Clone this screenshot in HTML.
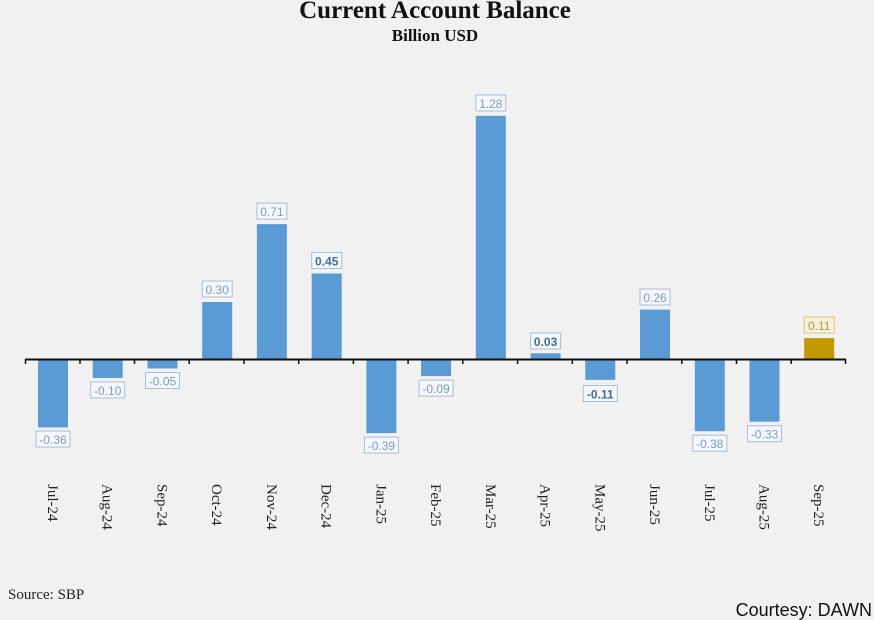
<!DOCTYPE html>
<html><head><meta charset="utf-8"><style>
body{margin:0;background:#f1f1f1;}
svg{display:block;}
.b{fill:#5b9bd5}
.lb{fill:#f4f6f9;stroke:#a9bfd6;stroke-width:1}
.lt{font-family:"Liberation Sans",sans-serif;font-size:12px;fill:#7d9cbf;text-anchor:middle}
.bd{fill:#3f6f9e;font-weight:bold}
.c{font-family:"Liberation Serif",serif;font-size:15px;fill:#222}
</style></head><body>
<svg width="874" height="620" viewBox="0 0 874 620" xmlns="http://www.w3.org/2000/svg">
<rect width="874" height="620" fill="#f1f1f1"/>
<text x="435" y="18" text-anchor="middle" font-family="Liberation Serif,serif" font-weight="bold" font-size="25" fill="#111">Current Account Balance</text>
<text x="435" y="41" text-anchor="middle" font-family="Liberation Serif,serif" font-weight="bold" font-size="17" fill="#111">Billion USD</text>
<rect class="b" x="38" y="359" width="30" height="68.4"/>
<rect class="b" x="92.7" y="359" width="30" height="19"/>
<rect class="b" x="147.5" y="359" width="30" height="9.5"/>
<rect class="b" x="202.2" y="302" width="30" height="57"/>
<rect class="b" x="256.9" y="224.1" width="30" height="134.9"/>
<rect class="b" x="311.7" y="273.5" width="30" height="85.5"/>
<rect class="b" x="366.4" y="359" width="30" height="74.1"/>
<rect class="b" x="421.1" y="359" width="30" height="17.1"/>
<rect class="b" x="475.8" y="115.8" width="30" height="243.2"/>
<rect class="b" x="530.6" y="353.3" width="30" height="5.7"/>
<rect class="b" x="585.3" y="359" width="30" height="20.9"/>
<rect class="b" x="640" y="309.6" width="30" height="49.4"/>
<rect class="b" x="694.8" y="359" width="30" height="72.2"/>
<rect class="b" x="749.5" y="359" width="30" height="62.7"/>
<rect x="804.2" y="338.1" width="30" height="20.9" fill="#c29a00"/>
<line x1="25" y1="359.5" x2="846" y2="359.5" stroke="#111" stroke-width="2"/>
<g stroke="#111" stroke-width="1.5">
<line x1="25.5" y1="359" x2="25.5" y2="364"/><line x1="80" y1="359" x2="80" y2="364"/><line x1="134.5" y1="359" x2="134.5" y2="364"/><line x1="189.2" y1="359" x2="189.2" y2="364"/><line x1="244" y1="359" x2="244" y2="364"/><line x1="298.7" y1="359" x2="298.7" y2="364"/><line x1="353.4" y1="359" x2="353.4" y2="364"/><line x1="408.1" y1="359" x2="408.1" y2="364"/><line x1="462.8" y1="359" x2="462.8" y2="364"/><line x1="517.6" y1="359" x2="517.6" y2="364"/><line x1="572.3" y1="359" x2="572.3" y2="364"/><line x1="627" y1="359" x2="627" y2="364"/><line x1="681.8" y1="359" x2="681.8" y2="364"/><line x1="736.5" y1="359" x2="736.5" y2="364"/><line x1="791.2" y1="359" x2="791.2" y2="364"/><line x1="845.5" y1="359" x2="845.5" y2="364"/>
</g>
<rect class="lb" x="36" y="431" width="34" height="16"/><text class="lt" x="53" y="444">-0.36</text>
<rect class="lb" x="90.7" y="382" width="34" height="16"/><text class="lt" x="107.7" y="395">-0.10</text>
<rect class="lb" x="145.5" y="372.5" width="34" height="16"/><text class="lt" x="162.5" y="385.5">-0.05</text>
<rect class="lb" x="202.2" y="281" width="30" height="16"/><text class="lt" x="217.2" y="294">0.30</text>
<rect class="lb" x="256.9" y="203.1" width="30" height="16"/><text class="lt" x="271.9" y="216.1">0.71</text>
<rect class="lb" x="311.7" y="252.5" width="30" height="16"/><text class="lt bd" x="326.7" y="265.5">0.45</text>
<rect class="lb" x="364.4" y="437.1" width="34" height="16"/><text class="lt" x="381.4" y="450.1">-0.39</text>
<rect class="lb" x="419.1" y="380.1" width="34" height="16"/><text class="lt" x="436.1" y="393.1">-0.09</text>
<rect class="lb" x="475.8" y="95" width="30" height="16"/><text class="lt" x="490.8" y="108">1.28</text>
<rect class="lb" x="530.6" y="333" width="30" height="16"/><text class="lt bd" x="545.6" y="346">0.03</text>
<rect class="lb" x="583.3" y="385.5" width="34" height="16"/><text class="lt bd" x="600.3" y="398.5">-0.11</text>
<rect class="lb" x="640" y="289" width="30" height="16"/><text class="lt" x="655" y="302">0.26</text>
<rect class="lb" x="692.8" y="435.2" width="34" height="16"/><text class="lt" x="709.8" y="448.2">-0.38</text>
<rect class="lb" x="747.5" y="425.7" width="34" height="16"/><text class="lt" x="764.5" y="438.7">-0.33</text>
<rect x="804.2" y="317" width="30" height="16" fill="#f6f1df" stroke="#dcc77a"/><text class="lt" x="819.2" y="330" style="fill:#b8992f">0.11</text>
<g class="c">
<text transform="translate(53,484) rotate(90)" dy="5">Jul-24</text>
<text transform="translate(107.7,484) rotate(90)" dy="5">Aug-24</text>
<text transform="translate(162.5,484) rotate(90)" dy="5">Sep-24</text>
<text transform="translate(217.2,484) rotate(90)" dy="5">Oct-24</text>
<text transform="translate(271.9,484) rotate(90)" dy="5">Nov-24</text>
<text transform="translate(326.7,484) rotate(90)" dy="5">Dec-24</text>
<text transform="translate(381.4,484) rotate(90)" dy="5">Jan-25</text>
<text transform="translate(436.1,484) rotate(90)" dy="5">Feb-25</text>
<text transform="translate(490.8,484) rotate(90)" dy="5">Mar-25</text>
<text transform="translate(545.6,484) rotate(90)" dy="5">Apr-25</text>
<text transform="translate(600.3,484) rotate(90)" dy="5">May-25</text>
<text transform="translate(655,484) rotate(90)" dy="5">Jun-25</text>
<text transform="translate(709.8,484) rotate(90)" dy="5">Jul-25</text>
<text transform="translate(764.5,484) rotate(90)" dy="5">Aug-25</text>
<text transform="translate(819.2,484) rotate(90)" dy="5">Sep-25</text>
</g>
<text x="8" y="599" font-family="Liberation Serif,serif" font-size="15" fill="#222">Source: SBP</text>
<text x="872" y="616" text-anchor="end" font-family="Liberation Sans,sans-serif" font-size="18" fill="#111">Courtesy: DAWN</text>
</svg>
</body></html>
